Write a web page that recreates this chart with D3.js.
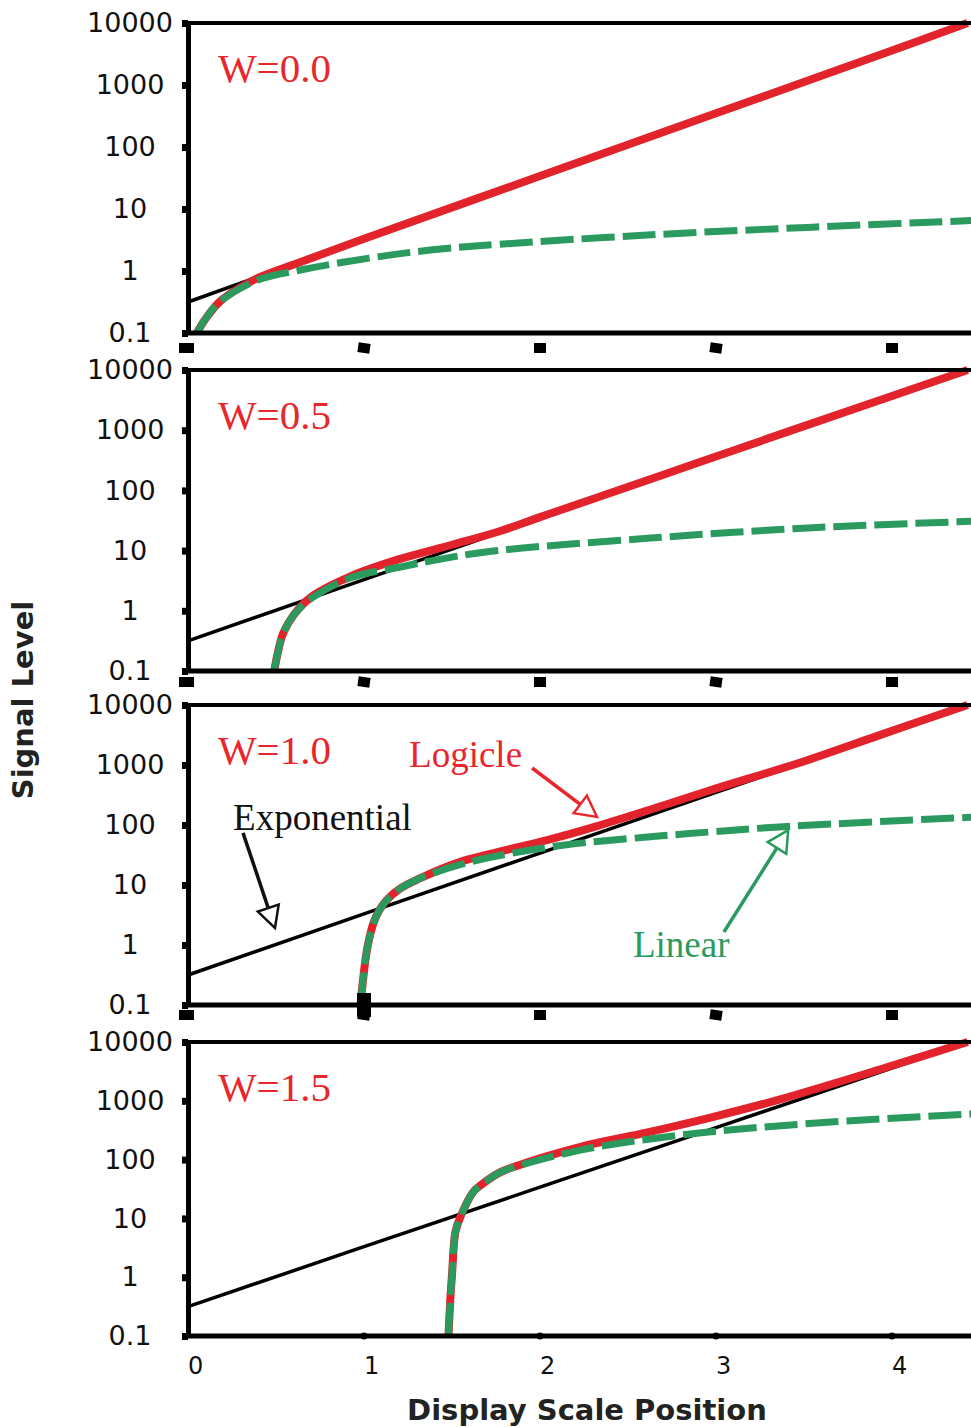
<!DOCTYPE html>
<html>
<head>
<meta charset="utf-8">
<script src="https://cdn.jsdelivr.net/npm/d3@7/dist/d3.min.js"></script>
<style>
  body { margin: 0; background: #fff; }
</style>
</head>
<body>
<div id="chart"></div>
<script>
// values: [display position, signal level]
var yTicks = [0.1, 1, 10, 100, 1000, 10000];
var yTickLabels = ["0.1", "1", "10", "100", "1000", "10000"];
var xTicks = [0, 1, 2, 3, 4];
var xTickLabels = ["0", "1", "2", "3", "4"];
var widthLabels = ["W=0.0", "W=0.5", "W=1.0", "W=1.5"];

var exponential = [[0, 0.316], [1, 3.3], [2, 34], [3, 350], [4, 3600], [4.43, 10000]];

var logicleW00 = [[0.05, 0.1], [0.1, 0.17], [0.18, 0.32], [0.3, 0.55], [0.4, 0.78], [0.64, 1.4], [1, 3.3], [2, 34], [3, 350], [4, 3600], [4.43, 10000]];
var logicleW05 = [[0.49, 0.1], [0.51, 0.2], [0.54, 0.42], [0.6, 0.85], [0.7, 1.7], [0.92, 3.7], [1.2, 7.2], [1.5, 12.5], [1.77, 21], [2, 36], [2.3, 72], [2.9, 290], [3.5, 1170], [4.43, 10000]];
var logicleW10 = [[0.98, 0.1], [0.99, 0.2], [1.02, 0.93], [1.06, 2.6], [1.11, 4.8], [1.2, 8.5], [1.32, 13], [1.56, 25], [1.77, 36], [2.04, 56], [2.32, 95], [2.65, 190], [2.98, 390], [3.48, 1100], [3.93, 3150], [4.43, 10000]];
var logicleW15 = [[1.48, 0.1], [1.49, 0.4], [1.5, 1.1], [1.52, 6], [1.55, 11], [1.62, 28], [1.66, 36], [1.77, 60], [1.85, 75], [2.23, 165], [2.61, 290], [2.98, 530], [3.36, 1050], [3.93, 3400], [4.43, 10000]];

var linearW00 = [[0.05, 0.1], [0.1, 0.17], [0.18, 0.32], [0.4, 0.72], [0.64, 1.04], [1.02, 1.6], [1.39, 2.2], [1.77, 2.7], [2.61, 3.8], [3.55, 5.1], [4.5, 6.6]];
var linearW05 = [[0.49, 0.1], [0.51, 0.2], [0.54, 0.42], [0.6, 0.85], [0.7, 1.6], [0.92, 3.5], [1.2, 5.3], [1.66, 9.2], [2.61, 16], [3.55, 24], [4.5, 31]];
var linearW10 = [[0.98, 0.1], [0.99, 0.2], [1.02, 0.93], [1.06, 2.6], [1.11, 4.8], [1.2, 8.5], [1.32, 13], [1.55, 22], [1.77, 31], [2.13, 46], [2.61, 63], [2.98, 77], [3.36, 93], [4.5, 137]];
var linearW15 = [[1.48, 0.1], [1.49, 0.4], [1.5, 1.1], [1.52, 6], [1.55, 11], [1.62, 28], [1.66, 36], [1.77, 60], [1.85, 74], [2.23, 145], [2.8, 262], [3.55, 415], [4.5, 610]];

var logicleSets = [logicleW00, logicleW05, logicleW10, logicleW15];
var linearSets = [linearW00, linearW05, linearW10, linearW15];

// annotations of the W=1.0 panel, in data units
var notes = [
  {text: "Exponential", color: "#111", at: [0.256, 82], from: [0.3125, 74], to: [0.494, 1.92]},
  {text: "Logicle", color: "#e8262c", at: [1.256, 926], from: [1.955, 891], to: [2.324, 136]},
  {text: "Linear", color: "#2b9a5e", at: [2.528, 0.63], from: [3.045, 1.65], to: [3.41, 82]}
];

var W = 971, H = 1427;
var red = "#e2232b", green = "#2b9a5e";
var panelBox = [[23, 333], [370, 671], [705, 1005], [1042, 1336]];

var svg = d3.select("#chart").append("svg")
    .attr("width", W)
    .attr("height", H);

var x = d3.scaleLinear().domain([0, 4.5]).range([188, 188 + 4.5 * 176]);

panelBox.forEach(function(box, i){
  var top = box[0], bottom = box[1];
  var y = d3.scaleLog().domain([0.1, 10000]).range([bottom, top]);
  var g = svg.append("g");

  var straight = d3.line().x(function(d){ return x(d[0]); }).y(function(d){ return y(d[1]); });
  var smooth = d3.line().x(function(d){ return x(d[0]); }).y(function(d){ return y(d[1]); })
      .curve(d3.curveCatmullRom.alpha(0.5));

  g.append("path").datum(exponential)
      .attr("d", straight)
      .attr("fill", "none")
      .attr("stroke", "#000")
      .attr("stroke-width", 3.5);

  g.append("path").datum(logicleSets[i])
      .attr("d", smooth)
      .attr("fill", "none")
      .attr("stroke", red)
      .attr("stroke-width", 8);

  g.append("path").datum(linearSets[i])
      .attr("d", smooth)
      .attr("fill", "none")
      .attr("stroke", green)
      .attr("stroke-width", 7)
      .attr("stroke-dasharray", "33,8");

  // frame
  g.append("line")
      .attr("x1", x(0)).attr("x2", W)
      .attr("y1", top).attr("y2", top)
      .attr("stroke", "#000").attr("stroke-width", 4);
  g.append("line")
      .attr("x1", x(0)).attr("x2", W)
      .attr("y1", bottom).attr("y2", bottom)
      .attr("stroke", "#000").attr("stroke-width", 5);

  g.append("g")
      .attr("transform", "translate(" + x(0) + ",0)")
      .call(d3.axisLeft(y).tickValues(yTicks)
          .tickFormat(function(d, j){ return yTickLabels[j]; })
          .tickSize(6).tickSizeOuter(0))
      .attr("font-size", 27)
      .attr("font-family", "DejaVu Sans, Verdana, sans-serif")
      .call(function(a){ a.select(".domain").attr("stroke-width", 5); })
      .call(function(a){ a.selectAll(".tick line").attr("stroke-width", 7); })
      .call(function(a){ a.selectAll(".tick text").attr("x", -58).attr("text-anchor", "middle").attr("fill", "#111"); });

  g.append("text")
      .attr("x", x(0.17))
      .attr("y", top + 59)
      .attr("fill", "#e8262c")
      .attr("font-family", "Liberation Serif, Times New Roman, serif")
      .attr("font-size", 41)
      .text(widthLabels[i]);

  if (i < 3) {
    // detached tick blocks under the lower frame
    var off = [10, 6, 5][i];
    g.selectAll("rect.tk").data(xTicks).enter().append("rect")
        .attr("class", "tk")
        .attr("x", function(d){ return x(d) - (d === 0 ? 9 : 6); })
        .attr("y", bottom + off)
        .attr("width", function(d){ return d === 0 ? 15 : 12; })
        .attr("height", 10)
        .attr("transform", function(d){ return d % 2 === 1 ? "rotate(8," + x(d) + "," + (bottom + off + 5) + ")" : null; })
        .attr("fill", "#000");
  } else {
    g.selectAll("circle.tk").data(xTicks.slice(1)).enter().append("circle")
        .attr("cx", function(d){ return x(d); })
        .attr("cy", bottom)
        .attr("r", 3.5)
        .attr("fill", "#000");
    g.selectAll("text.xl").data(xTicks).enter().append("text")
        .attr("class", "xl")
        .attr("x", function(d){ return x(d); })
        .attr("y", 1374)
        .attr("font-family", "DejaVu Sans, Verdana, sans-serif")
        .attr("font-size", 24)
        .attr("fill", "#111")
        .text(function(d, j){ return xTickLabels[j]; });
  }

  if (i === 2) {
    g.append("rect")
        .attr("x", x(1) - 7).attr("y", bottom - 12)
        .attr("width", 14).attr("height", 24)
        .attr("fill", "#000");

    notes.forEach(function(n){
      g.append("text")
          .attr("x", x(n.at[0]))
          .attr("y", y(n.at[1]))
          .attr("fill", n.color)
          .attr("font-family", "Liberation Serif, Times New Roman, serif")
          .attr("font-size", 37)
          .text(n.text);

      var x0 = x(n.from[0]), y0 = y(n.from[1]);
      var x1 = x(n.to[0]), y1 = y(n.to[1]);
      var ang = Math.atan2(y1 - y0, x1 - x0);
      var len = 21, half = 11;
      var bx = x1 - len * Math.cos(ang), by = y1 - len * Math.sin(ang);
      g.append("line")
          .attr("x1", x0).attr("y1", y0)
          .attr("x2", bx).attr("y2", by)
          .attr("stroke", n.color)
          .attr("stroke-width", 3.5);
      var pts = [
        [x1, y1],
        [bx + half * Math.sin(ang), by - half * Math.cos(ang)],
        [bx - half * Math.sin(ang), by + half * Math.cos(ang)]
      ];
      g.append("polygon")
          .attr("points", pts.map(function(p){ return p.join(","); }).join(" "))
          .attr("fill", "#fff")
          .attr("stroke", n.color)
          .attr("stroke-width", 2.5);
    });
  }
});

svg.append("text")
    .attr("transform", "translate(33,700) rotate(-90)")
    .attr("text-anchor", "middle")
    .attr("font-family", "DejaVu Sans, Verdana, sans-serif")
    .attr("font-weight", "bold")
    .attr("font-size", 29)
    .attr("fill", "#222")
    .text("Signal Level");

svg.append("text")
    .attr("x", 587)
    .attr("y", 1420)
    .attr("text-anchor", "middle")
    .attr("font-family", "DejaVu Sans, Verdana, sans-serif")
    .attr("font-weight", "bold")
    .attr("font-size", 29)
    .attr("fill", "#222")
    .text("Display Scale Position");
</script>
</body>
</html>
